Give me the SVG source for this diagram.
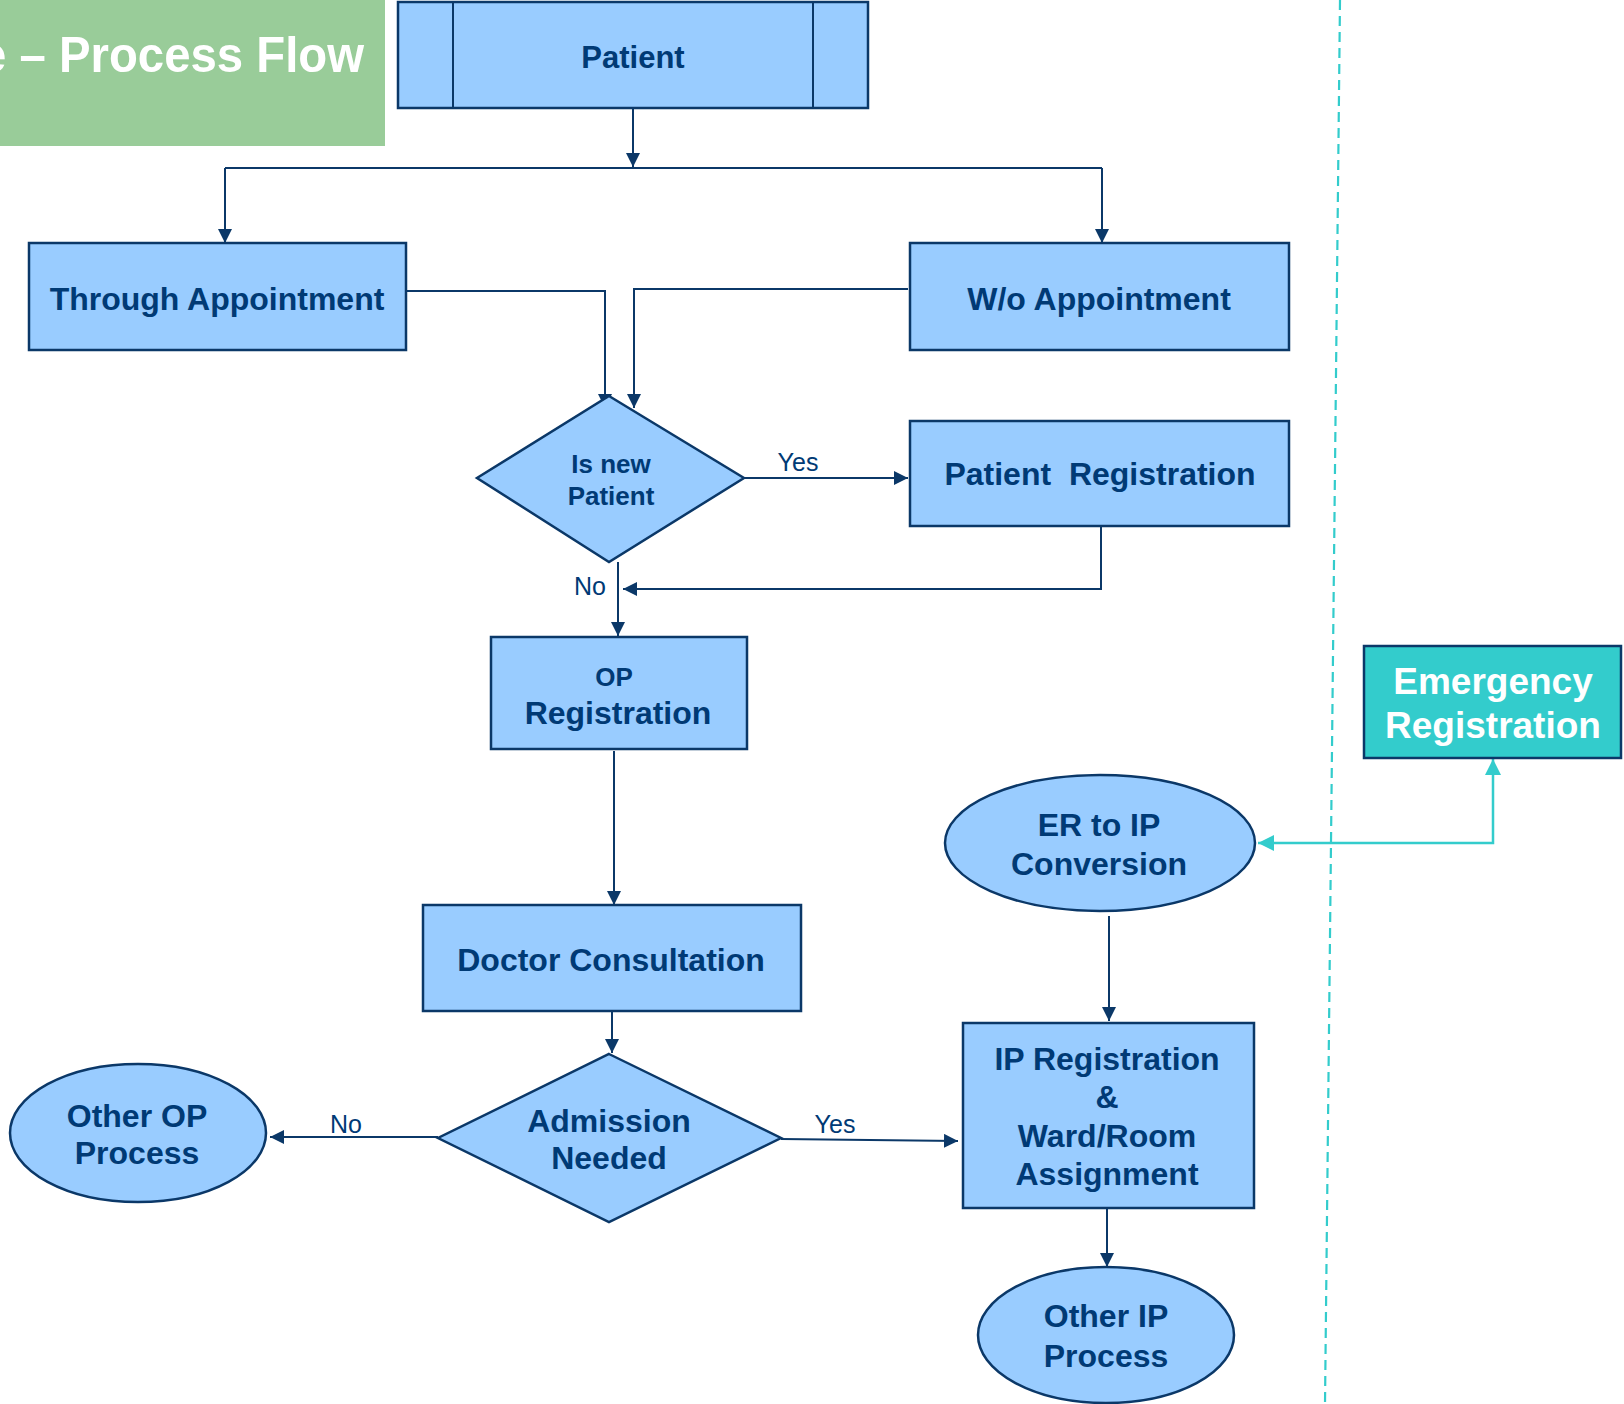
<svg xmlns="http://www.w3.org/2000/svg" width="1624" height="1404" viewBox="0 0 1624 1404">
<style>
.node{fill:#99CCFF;stroke:#0B3868;stroke-width:2.5}
.t{font-family:"Liberation Sans",Arial,sans-serif;font-weight:bold;fill:#003A75;text-anchor:middle;font-size:32px;white-space:pre}
.s{font-size:26px}
.lbl{font-family:"Liberation Sans",Arial,sans-serif;fill:#003A75;text-anchor:middle;font-size:25px}
.c{fill:none;stroke:#0B3868;stroke-width:2;marker-end:url(#ah)}
.cn{fill:none;stroke:#0B3868;stroke-width:2}
</style>
<defs>
<marker id="ah" viewBox="0 0 14 14" refX="14" refY="7" markerWidth="14" markerHeight="14" markerUnits="userSpaceOnUse" orient="auto"><path d="M0,0 L14,7 L0,14 z" fill="#0B3868"/></marker>
<marker id="th" viewBox="0 0 16 16" refX="16" refY="8" markerWidth="16" markerHeight="16" markerUnits="userSpaceOnUse" orient="auto-start-reverse"><path d="M0,0 L16,8 L0,16 z" fill="#33CCCC"/></marker>
</defs>
<rect width="1624" height="1404" fill="#FFFFFF"/>
<g id="title">
<rect x="0" y="0" width="385" height="146" fill="#99CC99"/>
<text x="364" y="72" text-anchor="end" textLength="384" lengthAdjust="spacingAndGlyphs" style="font-family:'Liberation Sans',Arial,sans-serif;font-weight:bold;font-size:50px;fill:#FFFFFF">e – Process Flow</text>
</g>
<g id="divider">
<line x1="1340" y1="0" x2="1325" y2="1404" stroke="#33CCCC" stroke-width="2.2" stroke-dasharray="10 6"/>
</g>
<g id="connectors">
<path class="c" d="M633,108 L633,167"/>
<path class="cn" d="M225,168 L1102,168"/>
<path class="c" d="M225,168 L225,243"/>
<path class="c" d="M1102,168 L1102,243"/>
<path class="c" d="M406,291 L605,291 L605,408"/>
<path class="c" d="M908,289 L634,289 L634,408"/>
<path class="c" d="M744,478 L908,478"/>
<text class="lbl" x="798" y="471">Yes</text>
<path class="c" d="M1101,526 L1101,589 L623,589"/>
<path class="c" d="M618,562 L618,636"/>
<text class="lbl" x="590" y="595">No</text>
<path class="c" d="M614,751 L614,905"/>
<path class="c" d="M612,1011 L612,1053"/>
<path class="c" d="M438,1137 L270,1137"/>
<text class="lbl" x="346" y="1133">No</text>
<path class="c" d="M781,1139 L958,1141"/>
<text class="lbl" x="835" y="1133">Yes</text>
<path class="c" d="M1107,1208 L1107,1267"/>
<path class="c" d="M1109,916 L1109,1021"/>
<path d="M1258,843 L1493,843 L1493,759" fill="none" stroke="#33CCCC" stroke-width="2.5" marker-start="url(#th)" marker-end="url(#th)"/>
</g>
<g id="patient">
<rect class="node" x="398" y="2" width="470" height="106"/>
<line x1="453" y1="2" x2="453" y2="108" stroke="#0B3868" stroke-width="2"/>
<line x1="813" y1="2" x2="813" y2="108" stroke="#0B3868" stroke-width="2"/>
<text class="t" x="633" y="68" style="font-size:31px">Patient</text>
</g>
<g id="through-appointment">
<rect class="node" x="29" y="243" width="377" height="107"/>
<text class="t" x="217" y="310">Through Appointment</text>
</g>
<g id="wo-appointment">
<rect class="node" x="910" y="243" width="379" height="107"/>
<text class="t" x="1099" y="310">W/o Appointment</text>
</g>
<g id="is-new-patient">
<polygon class="node" points="609,396 744,478 609,562 477,478"/>
<text class="t s" x="611" y="473">Is new</text>
<text class="t s" x="611" y="505">Patient</text>
</g>
<g id="patient-registration">
<rect class="node" x="910" y="421" width="379" height="105"/>
<text class="t" x="1100" y="485">Patient  Registration</text>
</g>
<g id="op-registration">
<rect class="node" x="491" y="637" width="256" height="112"/>
<text class="t s" x="614" y="686">OP</text>
<text class="t" x="618" y="724">Registration</text>
</g>
<g id="doctor-consultation">
<rect class="node" x="423" y="905" width="378" height="106"/>
<text class="t" x="611" y="971">Doctor Consultation</text>
</g>
<g id="admission-needed">
<polygon class="node" points="609,1054 781,1138 609,1222 438,1138"/>
<text class="t" x="609" y="1132">Admission</text>
<text class="t" x="609" y="1169">Needed</text>
</g>
<g id="other-op-process">
<ellipse class="node" cx="138" cy="1133" rx="128" ry="69"/>
<text class="t" x="137" y="1127">Other OP</text>
<text class="t" x="137" y="1164">Process</text>
</g>
<g id="ip-registration">
<rect class="node" x="963" y="1023" width="291" height="185"/>
<text class="t" x="1107" y="1070">IP Registration</text>
<text class="t" x="1107" y="1108">&amp;</text>
<text class="t" x="1107" y="1147">Ward/Room</text>
<text class="t" x="1107" y="1185">Assignment</text>
</g>
<g id="other-ip-process">
<ellipse class="node" cx="1106" cy="1335" rx="128" ry="68"/>
<text class="t" x="1106" y="1327">Other IP</text>
<text class="t" x="1106" y="1367">Process</text>
</g>
<g id="er-to-ip">
<ellipse class="node" cx="1100" cy="843" rx="155" ry="68"/>
<text class="t" x="1099" y="836">ER to IP</text>
<text class="t" x="1099" y="875">Conversion</text>
</g>
<g id="emergency-registration">
<rect x="1364" y="646" width="257" height="112" fill="#33CCCC" stroke="#0B3868" stroke-width="2.5"/>
<text class="t" x="1493" y="694" style="fill:#FFFFFF;font-size:37px">Emergency</text>
<text class="t" x="1493" y="738" style="fill:#FFFFFF;font-size:37px">Registration</text>
</g>
</svg>
